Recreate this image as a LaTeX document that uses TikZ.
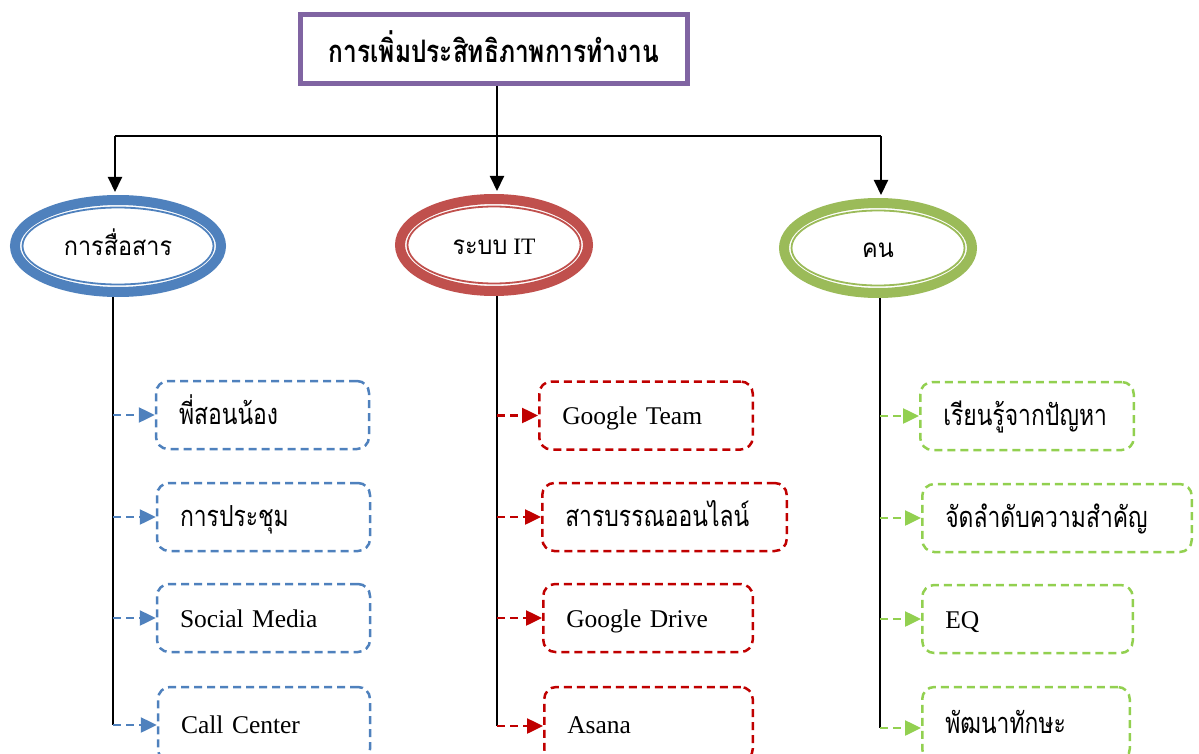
\documentclass[tikz,border=0pt]{standalone}
\usepackage{fontspec}
\setmainfont{Liberation Serif}
\newfontfamily\thai[Script=Thai,FakeStretch=0.9]{Loma}
\newfontfamily\thain[Script=Thai,FakeStretch=0.79]{Loma}
\newcommand{\thtxt}[1]{{\thain\fontsize{29}{32}\selectfont #1}}
\newcommand{\thov}[1]{{\thai\fontsize{26}{30}\selectfont #1}}
\usetikzlibrary{shapes.geometric,arrows.meta}
\definecolor{cpurple}{HTML}{8064A2}
\definecolor{cblue}{HTML}{4F81BD}
\definecolor{cred}{HTML}{C0504D}
\definecolor{cdred}{HTML}{C00000}
\definecolor{cgreen}{HTML}{9BBB59}
\definecolor{clgreen}{HTML}{92D050}
\tikzset{
  conn/.style={line width=2pt, black},
  connarrow/.style={conn, -{Triangle[length=15pt,width=14pt]}},
  oval/.style={ellipse, draw, line width=10pt, inner sep=0pt, text height=22pt, text depth=4pt,
    font=\fontsize{23.5}{28}\selectfont},
  innerline/.style={line width=1.8pt},
  cbox/.style={draw, rounded corners=12pt, dash pattern=on 8pt off 5pt, line width=2.5pt,
    minimum height=68pt, inner xsep=23pt, inner ysep=0pt, text height=22pt, text depth=4pt,
    align=left, font=\fontsize{25.5}{30}\selectfont},
  darrow/.style={line width=2.5pt, dash pattern=on 8pt off 5pt, -{Triangle[length=16pt,width=15pt]}},
}
\begin{document}
\begin{tikzpicture}[x=1pt,y=-1pt]
\useasboundingbox (0,0) rectangle (1199,754);
\clip (0,0) rectangle (1199,754);
% title
\node[draw=cpurple, line width=5pt, minimum width=387pt, minimum height=69pt, inner sep=0pt,
  text height=32pt, text depth=4pt,
  font=\fontsize{31}{34}\selectfont] (title) at (494,49) {\thain\bfseries การเพิ่มประสิทธิภาพการทำงาน};
% ovals
\node[oval, draw=cblue, minimum width=206pt, minimum height=92pt] (L) at (118,246) {\thov{การสื่อสาร}};
\draw[cblue, innerline] (L.center) ellipse (95.5pt and 38.5pt);
\node[oval, draw=cred, minimum width=188pt, minimum height=92pt] (M) at (494,245) {\thov{ระบบ} IT};
\draw[cred, innerline] (M.center) ellipse (86.5pt and 38.5pt);
\node[oval, draw=cgreen, minimum width=188pt, minimum height=90pt] (R) at (878,248) {\thov{คน}};
\draw[cgreen, innerline] (R.center) ellipse (86.5pt and 37.5pt);
% connectors from title
\coordinate (tj) at (497,136);
\coordinate (tl) at (115,136);
\coordinate (tr) at (881,136);
\draw[conn] (title.south -| tj) -- (tj);
\draw[conn] (tl) -- (tr);
\draw[connarrow, shorten >=3pt] (tl) -- (tl |- L.north);
\draw[connarrow, shorten >=3pt] (tj) -- (tj |- M.north);
\draw[connarrow, shorten >=3pt] (tr) -- (tr |- R.north);
% left column
\node[cbox, draw=cblue, text width=167pt] (L1) at (262.5,415) {\thtxt{พี่สอนน้อง}};
\node[cbox, draw=cblue, text width=167pt] (L2) at (263.5,517) {\thtxt{การประชุม}};
\node[cbox, draw=cblue, text width=167pt] (L3) at (263.5,618) {Social Media};
\node[cbox, draw=cblue, text width=166pt, minimum height=74pt] (L4) at (264,724) {Call Center};
\coordinate (Lb) at (113,725);
\draw[conn] (Lb |- L.south) -- (Lb);
\draw[darrow, cblue] (L1.west -| Lb) -- (L1.west);
\draw[darrow, cblue] (L2.west -| Lb) -- (L2.west);
\draw[darrow, cblue] (L3.west -| Lb) -- (L3.west);
\draw[darrow, cblue] (Lb) -- (Lb -| L4.west);
% middle column
\node[cbox, draw=cdred, text width=167.5pt] (M1) at (646,415.5) {Google Team};
\node[cbox, draw=cdred, text width=198.5pt] (M2) at (664.5,517) {\thtxt{สารบรรณออนไลน์}};
\node[cbox, draw=cdred, text width=163.5pt] (M3) at (648,618) {Google Drive};
\node[cbox, draw=cdred, text width=162.5pt, minimum height=74pt] (M4) at (648.5,724) {Asana};
\coordinate (Mb) at (497,726);
\draw[conn] (Mb |- M.south) -- (Mb);
\draw[darrow, cdred] (M1.west -| Mb) -- (M1.west);
\draw[darrow, cdred] (M2.west -| Mb) -- (M2.west);
\draw[darrow, cdred] (M3.west -| Mb) -- (M3.west);
\draw[darrow, cdred] (Mb) -- (Mb -| M4.west);
% right column
\node[cbox, draw=clgreen, text width=167.5pt] (R1) at (1027,416) {\thtxt{เรียนรู้จากปัญหา}};
\node[cbox, draw=clgreen, text width=223.5pt] (R2) at (1057,518) {\thtxt{จัดลำดับความสำคัญ}};
\node[cbox, draw=clgreen, text width=164.5pt] (R3) at (1027.5,619) {EQ};
\node[cbox, draw=clgreen, text width=161.5pt, minimum height=74pt] (R4) at (1026,724) {\thtxt{พัฒนาทักษะ}};
\coordinate (Rb) at (880,728);
\draw[conn] (Rb |- R.south) -- (Rb);
\draw[darrow, clgreen] (R1.west -| Rb) -- (R1.west);
\draw[darrow, clgreen] (R2.west -| Rb) -- (R2.west);
\draw[darrow, clgreen] (R3.west -| Rb) -- (R3.west);
\draw[darrow, clgreen] (Rb) -- (Rb -| R4.west);
\end{tikzpicture}
\end{document}
